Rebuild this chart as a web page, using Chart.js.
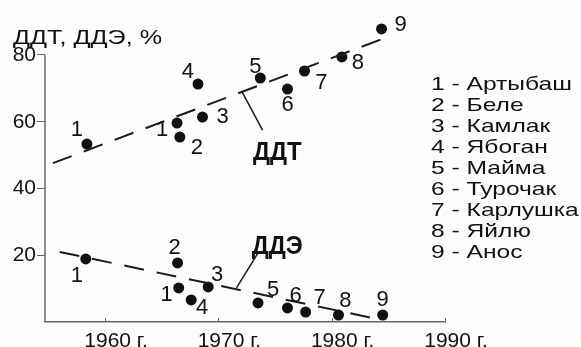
<!DOCTYPE html>
<html>
<head>
<meta charset="utf-8">
<script src="https://cdn.jsdelivr.net/npm/chart.js@4.4.1/dist/chart.umd.min.js"></script>
<style>
  html, body { margin: 0; padding: 0; background: #fdfdfd; }
  #wrap { width: 581px; height: 347px; }
</style>
</head>
<body>
<div id="wrap"><canvas id="chart" width="581" height="347"></canvas></div>
<script>
// Данные (годы, доля ДДТ и ДДЭ, %)
let ddtYears  = [1958.4, 1966.35, 1966.6, 1968.6, 1968.2, 1973.7, 1976.1, 1977.6, 1980.9, 1984.4];
let ddtValues = [53.3, 59.6, 55.4, 61.4, 71.3, 73.1, 69.8, 75.2, 79.4, 87.8];
let ddtNums   = ['1', '1', '2', '3', '4', '5', '6', '7', '8', '9'];

let ddeYears  = [1958.3, 1966.4, 1966.5, 1969.1, 1967.6, 1973.5, 1976.1, 1977.7, 1980.6, 1984.5];
let ddeValues = [18.9, 17.7, 10.2, 10.5, 6.6, 5.7, 4.2, 3.0, 2.1, 2.1];
let ddeNums   = ['1', '2', '1', '3', '4', '5', '6', '7', '8', '9'];

// линии тренда
let ddtTrendYears  = [1955.4, 1984.7];
let ddtTrendValues = [47.6, 85.1];
let ddeTrendYears  = [1956.0, 1983.6];
let ddeTrendValues = [21.0, 1.2];

// выноски к подписям ДДТ / ДДЭ
let ddtLeaderYears  = [1972.1, 1973.9];
let ddtLeaderValues = [68.9, 57.5];
let ddeLeaderYears  = [1973.5, 1971.6];
let ddeLeaderValues = [20.7, 10.2];
let seriesNames = ['ДДТ', 'ДДЭ'];
let seriesNameYears = [1975.2, 1975.2];
let seriesNameValues = [50.6, 22.5];

let places = ['Артыбаш', 'Беле', 'Камлак', 'Ябоган', 'Майма', 'Турочак', 'Карлушка', 'Яйлю', 'Анос'];
let yearTicks = [1960, 1970, 1980, 1990];
let valueTicks = [20, 40, 60, 80];
let axisTitle = 'ДДТ, ДДЭ, %';

// смещения подписей номеров (px) – только оформление
let ddtLabelShift = [[-10, -14], [-15, 7], [17, 11], [20, 0], [-10, -12], [-5, -11], [0, 16], [17, 12], [16, 6], [19, -4]];
let ddeLabelShift = [[-9, 17], [-3, -15], [-12, 7], [9, -12], [11, 8], [15, -13], [8, -12], [14, -14], [7, -14], [0, -15]];

function pts(xs, ys) {
    return xs.map((x, i) => ({ x: x, y: ys[i] }));
}

const ink = '#111';
const axisColor = '#666';
const font = 'Liberation Sans, Arial, sans-serif';

function lineSet(xs, ys, dash, width) {
    return {
        type: 'line',
        data: pts(xs, ys),
        borderColor: '#1a1a1a',
        borderWidth: width,
        borderDash: dash,
        pointRadius: 0,
        showLine: true,
        clip: false
    };
}

function dotSet(xs, ys, nums, shifts) {
    return {
        data: pts(xs, ys),
        backgroundColor: ink,
        borderWidth: 0,
        pointRadius: 5.5,
        clip: false,
        nums: nums,
        shifts: shifts
    };
}

function scaledText(ctx, text, x, y, sx) {
    ctx.save();
    ctx.translate(x, y);
    ctx.scale(sx, 1);
    ctx.fillText(text, 0, 0);
    ctx.restore();
}

// оси, подписи, легенда, заголовок оси
const textPlugin = {
    id: 'texts',
    beforeDatasetsDraw(chart) {
        let ctx = chart.ctx;
        let xs = chart.scales.x, ys = chart.scales.y;
        ctx.save();
        ctx.strokeStyle = axisColor;
        // ось Y только до 80
        ctx.lineWidth = 1.5;
        let ax = xs.left;
        ctx.beginPath();
        ctx.moveTo(ax, ys.bottom);
        ctx.lineTo(ax, ys.getPixelForValue(valueTicks[valueTicks.length - 1]));
        ctx.stroke();
        // мелкие засечки внутрь по оси X
        ctx.lineWidth = 1;
        yearTicks.forEach(v => {
            let px = Math.round(xs.getPixelForValue(v)) + 0.5;
            ctx.beginPath();
            ctx.moveTo(px, ys.bottom);
            ctx.lineTo(px, ys.bottom - 4);
            ctx.stroke();
        });
        ctx.restore();
    },
    afterDraw(chart) {
        let ctx = chart.ctx;
        let xs = chart.scales.x, ys = chart.scales.y;
        ctx.save();
        ctx.fillStyle = ink;

        // номера точек
        ctx.font = '22px ' + font;
        ctx.textAlign = 'center';
        ctx.textBaseline = 'middle';
        chart.data.datasets.forEach((ds, di) => {
            if (!ds.nums) return;
            let meta = chart.getDatasetMeta(di);
            meta.data.forEach((el, i) => {
                ctx.fillText(ds.nums[i], el.x + ds.shifts[i][0], el.y + ds.shifts[i][1]);
            });
        });

        // ДДТ / ДДЭ
        ctx.font = 'bold 26px ' + font;
        seriesNames.forEach((name, i) => {
            let px = xs.getPixelForValue(seriesNameYears[i]);
            let py = ys.getPixelForValue(seriesNameValues[i]);
            scaledText(ctx, name, px, py, 0.92);
        });

        // заголовок оси Y
        ctx.font = '21px ' + font;
        ctx.textAlign = 'left';
        let tw = ctx.measureText(axisTitle).width;
        scaledText(ctx, axisTitle, 13, 38, 149 / tw);

        // легенда
        ctx.font = '19px ' + font;
        let lw = ctx.measureText('1 - ' + places[0]).width;
        let ls = 141 / lw;
        places.forEach((p, i) => {
            scaledText(ctx, (i + 1) + ' - ' + p, 431, 85 + i * 21, ls);
        });
        ctx.restore();
    }
};

let ctx = document.getElementById('chart').getContext('2d');
let chart = new Chart(ctx, {
    type: 'scatter',
    data: {
        datasets: [
            lineSet(ddtTrendYears, ddtTrendValues, [20, 13], 2),
            lineSet(ddeTrendYears, ddeTrendValues, [20, 13], 2),
            lineSet(ddtLeaderYears, ddtLeaderValues, [], 1.5),
            lineSet(ddeLeaderYears, ddeLeaderValues, [], 1.5),
            dotSet(ddtYears, ddtValues, ddtNums, ddtLabelShift),
            dotSet(ddeYears, ddeValues, ddeNums, ddeLabelShift)
        ]
    },
    options: {
        responsive: false,
        animation: false,
        events: [],
        layout: { padding: { top: 21.6, right: 136, left: 0, bottom: 0 } },
        plugins: { legend: { display: false }, tooltip: { enabled: false } },
        scales: {
            x: {
                type: 'linear',
                min: 1954.7,
                max: 1990,
                afterBuildTicks: s => { s.ticks = yearTicks.map(v => ({ value: v })); },
                afterFit: s => { s.height = 25; },
                grid: { drawOnChartArea: false, drawTicks: false },
                border: { color: axisColor, width: 1.5 },
                ticks: {
                    color: ink,
                    font: { family: font, size: 21 },
                    padding: 7,
                    labelOffset: 11,
                    maxRotation: 0,
                    callback: v => v + ' г.'
                }
            },
            y: {
                min: 0,
                max: 90,
                afterBuildTicks: s => { s.ticks = valueTicks.map(v => ({ value: v })); },
                afterFit: s => { s.width = 45; },
                grid: { drawOnChartArea: false, tickLength: 8, color: axisColor },
                border: { display: false },
                ticks: {
                    color: ink,
                    font: { family: font, size: 21 },
                    padding: 1
                }
            }
        }
    },
    plugins: [textPlugin]
});
</script>
</body>
</html>
